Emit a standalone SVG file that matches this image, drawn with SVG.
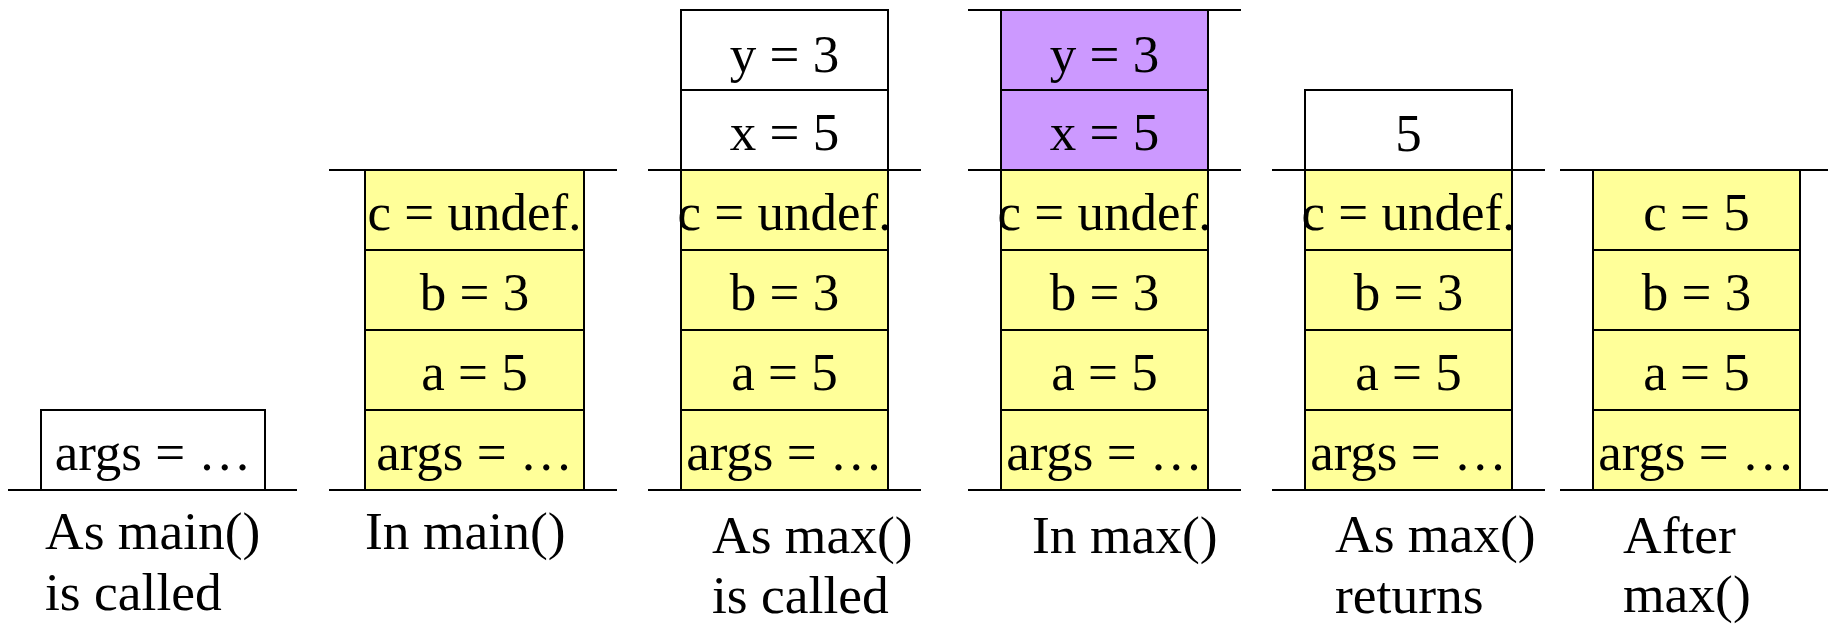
<svg xmlns="http://www.w3.org/2000/svg" width="1828" height="625" viewBox="0 0 1828 625">
<style>
.c{stroke:#000;stroke-width:2}
.y{fill:#FFFF99}
.w{fill:#FFFFFF}
.p{fill:#CC99FF}
.t{font-family:"Liberation Serif","Times New Roman",serif;font-size:53px;fill:#000;text-anchor:middle}
.l{font-family:"Liberation Serif","Times New Roman",serif;font-size:53.5px;fill:#000}
.g{stroke:#000;stroke-width:2;fill:none}
</style>
<rect width="1828" height="625" fill="#FFFFFF"/>

<g id="col1">
<g id="c1-args"><rect class="c w" x="41" y="410" width="224" height="80"/><text class="t" x="153" y="470">args = …</text></g>
<text class="l" x="45" y="549">As main()</text>
<text class="l" x="45" y="610">is called</text>
</g>

<g id="col2">
<g id="c2-c"><rect class="c y" x="365" y="170" width="219" height="80"/><text class="t" x="474.5" y="230">c = undef.</text></g>
<g id="c2-b"><rect class="c y" x="365" y="250" width="219" height="80"/><text class="t" x="474.5" y="310">b = 3</text></g>
<g id="c2-a"><rect class="c y" x="365" y="330" width="219" height="80"/><text class="t" x="474.5" y="390">a = 5</text></g>
<g id="c2-args"><rect class="c y" x="365" y="410" width="219" height="80"/><text class="t" x="474.5" y="470">args = …</text></g>
<text class="l" x="365" y="549">In main()</text>
</g>

<g id="col3">
<g id="c3-y"><rect class="c w" x="681" y="10" width="207" height="80"/><text class="t" x="784.5" y="72">y = 3</text></g>
<g id="c3-x"><rect class="c w" x="681" y="90" width="207" height="80"/><text class="t" x="784.5" y="150">x = 5</text></g>
<g id="c3-c"><rect class="c y" x="681" y="170" width="207" height="80"/><text class="t" x="784.5" y="230">c = undef.</text></g>
<g id="c3-b"><rect class="c y" x="681" y="250" width="207" height="80"/><text class="t" x="784.5" y="310">b = 3</text></g>
<g id="c3-a"><rect class="c y" x="681" y="330" width="207" height="80"/><text class="t" x="784.5" y="390">a = 5</text></g>
<g id="c3-args"><rect class="c y" x="681" y="410" width="207" height="80"/><text class="t" x="784.5" y="470">args = …</text></g>
<text class="l" x="712" y="553">As max()</text>
<text class="l" x="712" y="613">is called</text>
</g>

<g id="col4">
<g id="c4-y"><rect class="c p" x="1001" y="10" width="207" height="80"/><text class="t" x="1104.5" y="72">y = 3</text></g>
<g id="c4-x"><rect class="c p" x="1001" y="90" width="207" height="80"/><text class="t" x="1104.5" y="150">x = 5</text></g>
<g id="c4-c"><rect class="c y" x="1001" y="170" width="207" height="80"/><text class="t" x="1104.5" y="230">c = undef.</text></g>
<g id="c4-b"><rect class="c y" x="1001" y="250" width="207" height="80"/><text class="t" x="1104.5" y="310">b = 3</text></g>
<g id="c4-a"><rect class="c y" x="1001" y="330" width="207" height="80"/><text class="t" x="1104.5" y="390">a = 5</text></g>
<g id="c4-args"><rect class="c y" x="1001" y="410" width="207" height="80"/><text class="t" x="1104.5" y="470">args = …</text></g>
<text class="l" x="1032" y="553">In max()</text>
</g>

<g id="col5">
<g id="c5-ret"><rect class="c w" x="1305" y="90" width="207" height="80"/><text class="t" x="1408.5" y="151">5</text></g>
<g id="c5-c"><rect class="c y" x="1305" y="170" width="207" height="80"/><text class="t" x="1408.5" y="230">c = undef.</text></g>
<g id="c5-b"><rect class="c y" x="1305" y="250" width="207" height="80"/><text class="t" x="1408.5" y="310">b = 3</text></g>
<g id="c5-a"><rect class="c y" x="1305" y="330" width="207" height="80"/><text class="t" x="1408.5" y="390">a = 5</text></g>
<g id="c5-args"><rect class="c y" x="1305" y="410" width="207" height="80"/><text class="t" x="1408.5" y="470">args = …</text></g>
<text class="l" x="1335" y="552">As max()</text>
<text class="l" x="1335" y="613">returns</text>
</g>

<g id="col6">
<g id="c6-c"><rect class="c y" x="1593" y="170" width="207" height="80"/><text class="t" x="1696.5" y="230">c = 5</text></g>
<g id="c6-b"><rect class="c y" x="1593" y="250" width="207" height="80"/><text class="t" x="1696.5" y="310">b = 3</text></g>
<g id="c6-a"><rect class="c y" x="1593" y="330" width="207" height="80"/><text class="t" x="1696.5" y="390">a = 5</text></g>
<g id="c6-args"><rect class="c y" x="1593" y="410" width="207" height="80"/><text class="t" x="1696.5" y="470">args = …</text></g>
<text class="l" x="1623" y="553">After</text>
<text class="l" x="1623" y="612">max()</text>
</g>

<g id="connectors">
<line class="g" x1="8" y1="490" x2="297" y2="490"/>
<line class="g" x1="329" y1="170" x2="617" y2="170"/>
<line class="g" x1="329" y1="490" x2="617" y2="490"/>
<line class="g" x1="648" y1="170" x2="921" y2="170"/>
<line class="g" x1="648" y1="490" x2="921" y2="490"/>
<line class="g" x1="968" y1="10" x2="1241" y2="10"/>
<line class="g" x1="968" y1="170" x2="1241" y2="170"/>
<line class="g" x1="968" y1="490" x2="1241" y2="490"/>
<line class="g" x1="1272" y1="170" x2="1545" y2="170"/>
<line class="g" x1="1272" y1="490" x2="1545" y2="490"/>
<line class="g" x1="1560" y1="170" x2="1828" y2="170"/>
<line class="g" x1="1560" y1="490" x2="1828" y2="490"/>
</g>
</svg>
